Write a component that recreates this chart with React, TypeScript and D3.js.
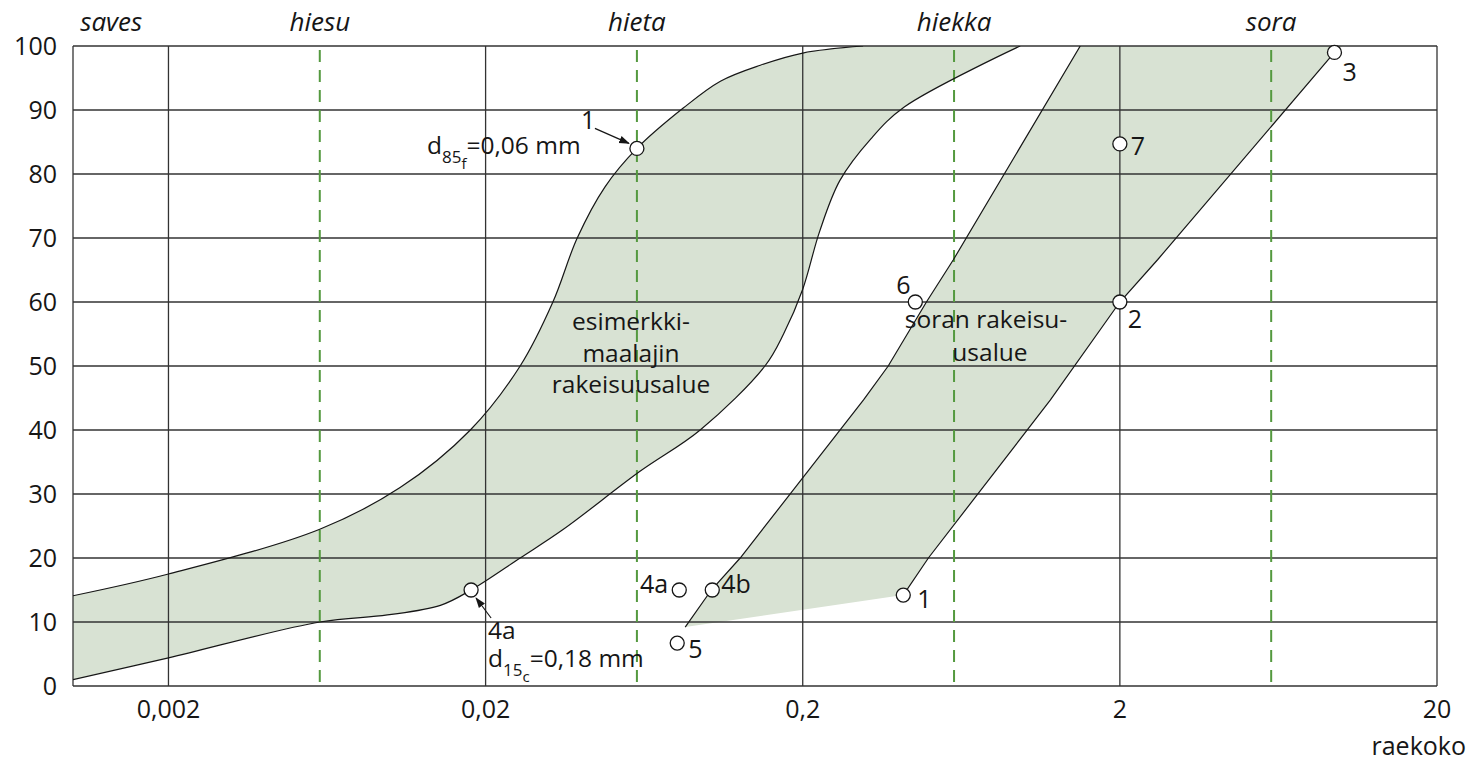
import React from 'react';
import * as d3 from 'd3';

const W = 1476;
const H = 761;
const M = { left: 73, right: 1437, top: 46, bottom: 686 };

// axes
const xDomain: [number, number] = [0.001, 20];
const xGridValues = [0.002, 0.02, 0.2, 2];
const xTickValues = [0.002, 0.02, 0.2, 2, 20];
const xTickLabels = ['0,002', '0,02', '0,2', '2', '20'];
const yTickValues = [0, 10, 20, 30, 40, 50, 60, 70, 80, 90, 100];
const fractionBounds = [0.006, 0.06, 0.6, 6];
const fractionNames = ['saves', 'hiesu', 'hieta', 'hiekka', 'sora'];
const fractionNameAt = [0.00132, 0.006, 0.06, 0.6, 6];

// example soil grading envelope: [grain size mm, passing %]
const fineBoundary: [number, number][] = [
  [0.001, 14.1], [0.002, 17.5], [0.006, 24.5], [0.01075, 31], [0.0179, 40],
  [0.0257, 50], [0.0326, 60], [0.0389, 70], [0.0476, 78], [0.06, 84],
  [0.084, 90.3], [0.11, 94.5], [0.147, 97], [0.2, 98.9], [0.31, 100],
];
const coarseBoundary: [number, number][] = [
  [0.001, 1], [0.002, 4.4], [0.006, 10], [0.0098, 11.1], [0.0144, 12.6],
  [0.018, 15], [0.0257, 20], [0.035, 24.4], [0.0612, 33.5], [0.095, 40],
  [0.152, 50], [0.174, 55], [0.2, 62], [0.226, 71], [0.262, 79],
  [0.328, 85.5], [0.419, 90.5], [0.97, 100],
];

// gravel grading envelope
const gravelFine: [number, number][] = [
  [0.0852, 9.2], [0.103, 15], [0.127, 20], [0.311, 44.7], [0.372, 50],
  [0.491, 60], [0.597, 66.6], [1.5, 100],
];
const gravelCoarse: [number, number][] = [
  [0.415, 14.2], [0.498, 20], [1.208, 44.7], [2, 60], [2.63, 66.6], [9.5, 99],
];
const gravelCoarseTop: [number, number] = [10.07, 100];

// sample points
const points = [
  { id: '1f', label: '1', size: 0.06, pass: 84 },
  { id: '4a', label: '', size: 0.018, pass: 15 },
  { id: '4a2', label: '4a', size: 0.0816, pass: 15 },
  { id: '4b', label: '4b', size: 0.1037, pass: 15 },
  { id: '5', label: '5', size: 0.0804, pass: 6.7 },
  { id: '1c', label: '1', size: 0.415, pass: 14.2 },
  { id: '6', label: '6', size: 0.453, pass: 60 },
  { id: '2', label: '2', size: 2, pass: 60 },
  { id: '7', label: '7', size: 2, pass: 84.7 },
  { id: '3', label: '3', size: 9.5, pass: 99 },
];

// label placement (styling, pixels relative to the marker)
const labelPlace: Record<string, { dx: number; dy: number; anchor: string }> = {
  '1f': { dx: -56, dy: -19, anchor: 'start' },
  '4a2': { dx: -11, dy: 3, anchor: 'end' },
  '4b': { dx: 9, dy: 3, anchor: 'start' },
  '5': { dx: 11, dy: 15, anchor: 'start' },
  '1c': { dx: 14, dy: 13, anchor: 'start' },
  '6': { dx: -19, dy: -8, anchor: 'start' },
  '2': { dx: 8, dy: 26, anchor: 'start' },
  '7': { dx: 11, dy: 11, anchor: 'start' },
  '3': { dx: 8, dy: 29, anchor: 'start' },
};

const FONT = '"Open Sans", "Noto Sans", sans-serif';
const GRID = '#333333';
const GREEN = '#54993f';
const FILL = '#d8e2d3';
const INK = '#161616';

export default function App() {
  const x = d3.scaleLog().domain(xDomain).range([M.left, M.right]);
  const y = d3.scaleLinear().domain([0, 100]).range([M.bottom, M.top]);
  const curve = d3
    .line<[number, number]>()
    .x((d) => x(d[0]))
    .y((d) => y(d[1]))
    .curve(d3.curveCatmullRom.alpha(0.5));
  const straight = d3
    .line<[number, number]>()
    .x((d) => x(d[0]))
    .y((d) => y(d[1]));

  const fineD = curve(fineBoundary) || '';
  const coarseD = curve(coarseBoundary) || '';
  const coarseRev = (curve([...coarseBoundary].reverse()) || '').replace(/^M/, 'L');
  const fill1 = fineD + coarseRev + 'Z';

  const gFineD = straight(gravelFine) || '';
  const gCoarseD = straight(gravelCoarse) || '';
  const gRev = (straight([gravelCoarseTop, ...[...gravelCoarse].reverse()]) || '').replace(/^M/, 'L');
  const fill2 = gFineD + gRev + 'Z';

  const pt = (id: string) => points.find((p) => p.id === id)!;
  const p1 = pt('1f');
  const p4 = pt('4a');

  return (
    <svg
      width={W}
      height={H}
      style={{ position: 'absolute', left: 0, top: 0, background: '#fff' }}
      fontFamily={FONT}
    >
      <defs>
        <clipPath id="plot">
          <rect x={M.left} y={M.top} width={M.right - M.left} height={M.bottom - M.top} />
        </clipPath>
        <marker id="arr" viewBox="0 0 10 10" refX="9" refY="5" markerWidth="9" markerHeight="9" orient="auto">
          <path d="M0,1.5 L10,5 L0,8.5 Z" fill={INK} />
        </marker>
      </defs>

      {/* fills */}
      <g clipPath="url(#plot)">
        <path d={fill1} fill={FILL} />
        <path d={fill2} fill={FILL} />
      </g>

      {/* grid */}
      <g stroke={GRID} strokeWidth={1.3}>
        {yTickValues.map((v) => (
          <line key={'h' + v} x1={M.left} x2={M.right} y1={y(v)} y2={y(v)} />
        ))}
        {xGridValues.map((v) => (
          <line key={'v' + v} x1={x(v)} x2={x(v)} y1={M.top} y2={M.bottom} />
        ))}
        <line x1={M.left} x2={M.left} y1={M.top} y2={M.bottom} />
        <line x1={M.right} x2={M.right} y1={M.top} y2={M.bottom} />
      </g>
      <g stroke={GREEN} strokeWidth={2} strokeDasharray="12 8">
        {fractionBounds.map((v) => (
          <line key={'f' + v} x1={x(v)} x2={x(v)} y1={M.top + 4} y2={M.bottom} />
        ))}
      </g>

      {/* boundaries */}
      <g clipPath="url(#plot)" fill="none" stroke={INK} strokeWidth={1.2}>
        <path d={fineD} />
        <path d={coarseD} />
        <path d={gFineD} />
        <path d={gCoarseD} />
      </g>

      {/* axis labels */}
      <g fontSize={25} fill={INK}>
        {yTickValues.map((v) => (
          <text key={'yl' + v} x={57} y={y(v)} dy="0.36em" textAnchor="end">
            {v}
          </text>
        ))}
        {xTickValues.map((v, i) => (
          <text key={'xl' + v} x={x(v)} y={718} textAnchor="middle">
            {xTickLabels[i]}
          </text>
        ))}
        <text x={1466} y={755} textAnchor="end">raekoko</text>
      </g>
      <g fontSize={26} fontStyle="italic" fill={INK}>
        {fractionNames.map((n, i) => (
          <text key={n} x={x(fractionNameAt[i])} y={31} textAnchor="middle">
            {n}
          </text>
        ))}
      </g>

      {/* region labels */}
      <g fontSize={24.5} fill={INK} textAnchor="middle">
        <text x={631} y={330}>esimerkki-</text>
        <text x={631} y={362}>maalajin</text>
        <text x={631} y={393}>rakeisuusalue</text>
        <text x={986} y={328}>soran rakeisu-</text>
        <text x={990} y={361}>usalue</text>
      </g>

      {/* annotations */}
      <g fontSize={24.5} fill={INK}>
        <line
          x1={x(p1.size) - 42}
          y1={y(p1.pass) - 20}
          x2={x(p1.size) - 8}
          y2={y(p1.pass) - 5}
          stroke={INK}
          strokeWidth={1.2}
          markerEnd="url(#arr)"
        />
        <text x={427} y={154}>
          d
          <tspan fontSize={17} dy={9}>85</tspan>
          <tspan fontSize={15} dy={6}>f</tspan>
          <tspan dy={-15}>=0,06 mm</tspan>
        </text>
        <line
          x1={x(p4.size) + 20}
          y1={y(p4.pass) + 28}
          x2={x(p4.size) + 5}
          y2={y(p4.pass) + 8}
          stroke={INK}
          strokeWidth={1.2}
          markerEnd="url(#arr)"
        />
        <text x={488} y={639}>4a</text>
        <text x={488} y={667}>
          d
          <tspan fontSize={17} dy={9}>15</tspan>
          <tspan fontSize={15} dy={6}>c</tspan>
          <tspan dy={-15}>=0,18 mm</tspan>
        </text>
      </g>

      {/* points */}
      <g>
        {points.map((p) => (
          <circle key={p.id} cx={x(p.size)} cy={y(p.pass)} r={7} fill="#fff" stroke={INK} strokeWidth={1.3} />
        ))}
      </g>
      <g fontSize={25} fill={INK}>
        {points
          .filter((p) => labelPlace[p.id])
          .map((p) => (
            <text
              key={'l' + p.id}
              x={x(p.size) + labelPlace[p.id].dx}
              y={y(p.pass) + labelPlace[p.id].dy}
              textAnchor={labelPlace[p.id].anchor as any}
            >
              {p.label}
            </text>
          ))}
      </g>
    </svg>
  );
}
